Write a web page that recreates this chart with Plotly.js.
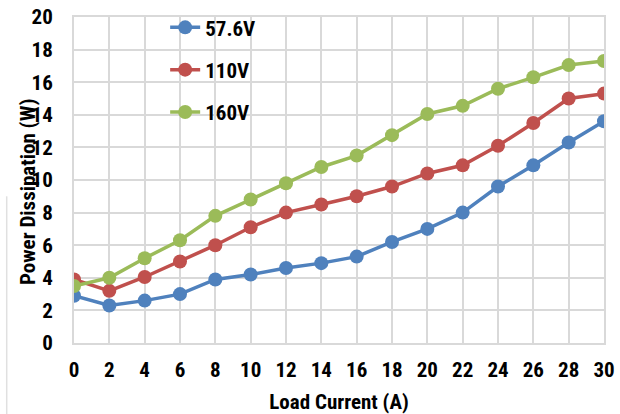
<!DOCTYPE html>
<html>
<head>
<meta charset="utf-8">
<script src="https://cdn.plot.ly/plotly-3.0.1.min.js"></script>
<style>html,body{margin:0;padding:0;background:#fff;}#chart{width:620px;height:414px;}</style>
</head>
<body>
<div id="chart"></div>
<script>
const loadCurrent = [0, 2, 4, 6, 8, 10, 12, 14, 16, 18, 20, 22, 24, 26, 28, 30];
const power576V = [2.9, 2.3, 2.6, 3.0, 3.9, 4.2, 4.6, 4.9, 5.3, 6.2, 7.0, 8.0, 9.6, 10.9, 12.3, 13.6];
const power110V = [3.9, 3.2, 4.05, 5.0, 6.0, 7.1, 8.0, 8.5, 9.0, 9.6, 10.4, 10.9, 12.1, 13.5, 15.0, 15.3];
const power160V = [3.5, 4.0, 5.2, 6.3, 7.8, 8.8, 9.8, 10.8, 11.5, 12.75, 14.05, 14.55, 15.6, 16.3, 17.05, 17.3];
const seriesNames = ["57.6V", "110V", "160V"];
const seriesColors = ["#4f81bd", "#c0504d", "#9bbb59"];
const xTicks = [0, 2, 4, 6, 8, 10, 12, 14, 16, 18, 20, 22, 24, 26, 28, 30];
const yTicks = [0, 2, 4, 6, 8, 10, 12, 14, 16, 18, 20];
const xTitle = 'Load Current (A)';
const yTitle = 'Power Dissipation (W)';

const FONT = '"Liberation Sans Narrow", "Arial Narrow", "Roboto Condensed", "Liberation Sans", sans-serif';
const ys = [power576V, power110V, power160V];
const traces = ys.map((y, i) => ({
  x: loadCurrent, y: y, name: seriesNames[i], type: 'scatter', mode: 'lines+markers',
  legendgroup: 'g' + i,
  line: {color: seriesColors[i], width: 3.5},
  marker: {color: seriesColors[i], size: 14}
}));

const layout = {
  width: 620, height: 414,
  margin: {l: 74, r: 16, t: 17, b: 71, autoexpand: false},
  paper_bgcolor: '#fff', plot_bgcolor: '#fff',
  font: {family: FONT, size: 21, color: '#000', weight: 'bold'},
  showlegend: true,
  legend: {x: 0.172, y: 1.03, xanchor: 'left', yanchor: 'top', bgcolor: 'rgba(0,0,0,0)',
           traceorder: 'grouped', tracegroupgap: 12, font: {family: FONT, size: 21, weight: 'bold'}},
  xaxis: {range: [0, 30], tickvals: xTicks, ticktext: xTicks.map(String), showgrid: true,
          gridcolor: '#d9d9d9', gridwidth: 2, zeroline: false, showline: true, linecolor: '#d9d9d9', linewidth: 2,
          mirror: true, ticks: '', ticklabelstandoff: 7,
          tickfont: {family: FONT, size: 21, weight: 'bold'},
          title: {text: xTitle, font: {family: FONT, size: 21, weight: 'bold'}, standoff: 13},
          automargin: false},
  yaxis: {range: [0, 20], tickvals: yTicks, ticktext: yTicks.map(String), showgrid: true,
          gridcolor: '#d9d9d9', gridwidth: 2, zeroline: false, showline: true, linecolor: '#d9d9d9', linewidth: 2,
          mirror: true, ticks: '', ticklabelstandoff: 15,
          tickfont: {family: FONT, size: 21, weight: 'bold'},
          automargin: false},
  annotations: [{text: yTitle, xref: 'paper', yref: 'paper', x: -0.087, y: 0.463,
                 xanchor: 'center', yanchor: 'middle', textangle: -90, showarrow: false,
                 font: {family: FONT, size: 21, weight: 'bold', color: '#000'}}],
  shapes: [{type: 'line', xref: 'paper', yref: 'paper', x0: -0.127, x1: -0.127, y0: -0.22, y1: 0.45,
            line: {color: '#e0e0e0', width: 1.5}}]
};
Plotly.newPlot('chart', traces, layout, {displayModeBar: false, staticPlot: true});
</script>
</body>
</html>
